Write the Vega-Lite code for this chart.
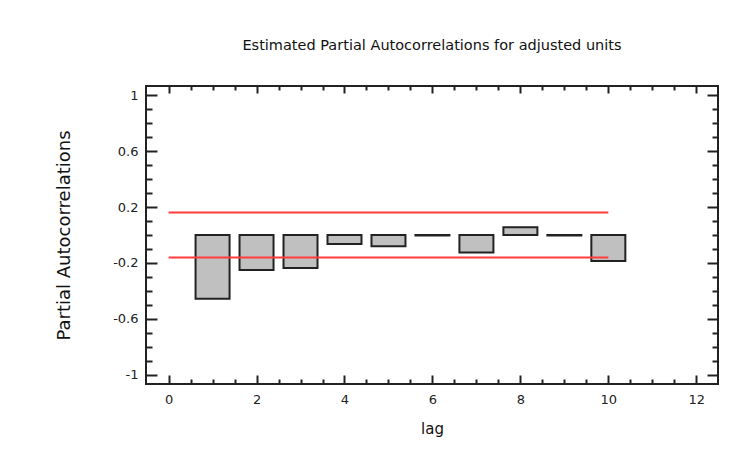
{
  "$schema": "https://vega.github.io/schema/vega-lite/v6.json",
  "width": 572,
  "height": 298,
  "autosize": {"type": "none"},
  "padding": {"left": 146, "top": 86, "right": 14, "bottom": 69},
  "background": "white",
  "title": {
    "text": "Estimated Partial Autocorrelations for adjusted units",
    "font": "DejaVu Sans",
    "fontSize": 14.5,
    "fontWeight": "normal",
    "color": "#111",
    "offset": 32,
    "anchor": "middle",
    "frame": "group"
  },
  "config": {
    "view": {"stroke": "#222", "strokeWidth": 2},
    "axis": {
      "domain": false,
      "grid": false,
      "labelFont": "DejaVu Sans",
      "labelFontSize": 13,
      "labelColor": "#222",
      "titleFont": "DejaVu Sans",
      "titleFontWeight": "normal",
      "titleColor": "#111",
      "tickColor": "#222",
      "tickWidth": 2
    }
  },
  "layer": [
    {
      "data": {
        "values": [
          {"lag": 1, "pacf": -0.455},
          {"lag": 2, "pacf": -0.25},
          {"lag": 3, "pacf": -0.235},
          {"lag": 4, "pacf": -0.065},
          {"lag": 5, "pacf": -0.08},
          {"lag": 6, "pacf": -0.003},
          {"lag": 7, "pacf": -0.125},
          {"lag": 8, "pacf": 0.055},
          {"lag": 9, "pacf": -0.003},
          {"lag": 10, "pacf": -0.185}
        ]
      },
      "mark": {"type": "bar", "fill": "#c0c0c0", "stroke": "#222", "strokeWidth": 2, "size": 34},
      "encoding": {
        "x": {
          "field": "lag",
          "type": "quantitative",
          "scale": {"domain": [-0.4, 12.38], "nice": false, "zero": false},
          "axis": {
            "orient": "bottom",
            "title": "lag",
            "titleFontSize": 15,
            "titlePadding": 15,
            "values": [0, 0.5, 1, 1.5, 2, 2.5, 3, 3.5, 4, 4.5, 5, 5.5, 6, 6.5, 7, 7.5, 8, 8.5, 9, 9.5, 10, 10.5, 11, 11.5, 12],
            "labelExpr": "datum.value % 2 == 0 ? format(datum.value, 'd') : ''",
            "tickSize": {"condition": {"test": "datum.value % 2 == 0", "value": -9}, "value": -5},
            "labelPadding": 18
          }
        },
        "y": {
          "field": "pacf",
          "type": "quantitative",
          "scale": {"domain": [-1.065, 1.065], "nice": false, "zero": false},
          "axis": {
            "orient": "left",
            "title": "Partial  Autocorrelations",
            "titleFontSize": 18,
            "titlePadding": 39,
            "values": [-1, -0.9, -0.8, -0.7, -0.6, -0.5, -0.4, -0.3, -0.2, -0.1, 0, 0.1, 0.2, 0.3, 0.4, 0.5, 0.6, 0.7, 0.8, 0.9, 1],
            "labelExpr": "abs(round(datum.value*10)) % 4 == 2 ? (datum.value < 0 ? '-' : '') + format(abs(datum.value), '') : ''",
            "tickSize": {"condition": {"test": "abs(round(datum.value*10)) % 4 == 2", "value": -11}, "value": -6},
            "labelPadding": 19
          }
        }
      }
    },
    {
      "data": {
        "values": [
          {"from": 0, "to": 10, "limit": 0.16},
          {"from": 0, "to": 10, "limit": -0.16}
        ]
      },
      "mark": {"type": "rule", "color": "#ff3c3c", "strokeWidth": 2},
      "encoding": {
        "x": {
          "field": "from",
          "type": "quantitative",
          "axis": {
            "orient": "top",
            "title": null,
            "labels": false,
            "values": [0, 0.5, 1, 1.5, 2, 2.5, 3, 3.5, 4, 4.5, 5, 5.5, 6, 6.5, 7, 7.5, 8, 8.5, 9, 9.5, 10, 10.5, 11, 11.5, 12],
            "tickSize": {"condition": {"test": "datum.value % 2 == 0", "value": -7}, "value": -4}
          }
        },
        "x2": {"field": "to"},
        "y": {
          "field": "limit",
          "type": "quantitative",
          "axis": {
            "orient": "right",
            "title": null,
            "labels": false,
            "values": [-1, -0.9, -0.8, -0.7, -0.6, -0.5, -0.4, -0.3, -0.2, -0.1, 0, 0.1, 0.2, 0.3, 0.4, 0.5, 0.6, 0.7, 0.8, 0.9, 1],
            "tickSize": {"condition": {"test": "abs(round(datum.value*10)) % 4 == 2", "value": -11}, "value": -6}
          }
        }
      }
    }
  ],
  "resolve": {"axis": {"x": "independent", "y": "independent"}}
}
